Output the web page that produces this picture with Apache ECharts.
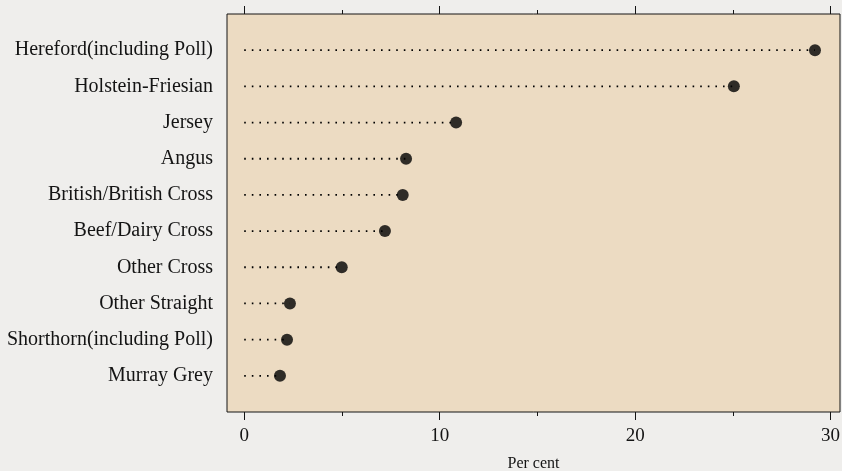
<!DOCTYPE html>
<html>
<head>
<meta charset="utf-8">
<script src="https://cdn.jsdelivr.net/npm/echarts@6/dist/echarts.min.js"></script>
<style>
html,body{margin:0;padding:0;background:#efeeec;}
#chart{width:842px;height:471px;}
</style>
</head>
<body>
<div id="chart"></div>
<script>
const categories = ['Hereford(including Poll)','Holstein-Friesian','Jersey','Angus','British/British Cross','Beef/Dairy Cross','Other Cross','Other Straight','Shorthorn(including Poll)','Murray Grey'];
const percents = [29.2, 25.05, 10.84, 8.28, 8.11, 7.2, 4.99, 2.34, 2.19, 1.83];
const majorTicks = [0, 10, 20, 30];
const minorTicks = [5, 15, 25];
const xTitle = 'Per cent';

const FONT = 'Liberation Serif';
const INK = '#141414';
const xMin = -0.88, xMax = 30.48;

const points = percents.map((v, i) => [v, i]);

function xAxisDef(pos, ticks, len, showLabel, extra) {
  return Object.assign({
    type: 'value', position: pos, min: xMin, max: xMax,
    axisLine: {show: false, onZero: false},
    splitLine: {show: false},
    axisTick: {show: true, inside: false, length: len, customValues: ticks, lineStyle: {color: INK, width: 1}},
    axisLabel: {show: showLabel, customValues: ticks, fontFamily: FONT, fontSize: 19, color: INK, margin: 15},
  }, extra || {});
}

const chart = echarts.init(document.getElementById('chart'), null, {renderer: 'canvas'});
chart.setOption({
  animation: false,
  backgroundColor: '#efeeec',
  grid: {left: 227, right: 2, top: 14, bottom: 59, show: true, backgroundColor: '#ecdbc2', borderColor: INK, borderWidth: 1, containLabel: false, outerBoundsMode: 'none'},
  xAxis: [
    xAxisDef('bottom', majorTicks, 8, true, {name: xTitle, nameLocation: 'middle', nameGap: 44, nameTextStyle: {fontFamily: FONT, fontSize: 16, color: INK}}),
    xAxisDef('bottom', minorTicks, 4, false),
    xAxisDef('top', majorTicks, 8, false),
    xAxisDef('top', minorTicks, 4, false)
  ],
  yAxis: {
    type: 'value', inverse: true, min: -1, max: 10, interval: 1,
    axisLine: {show: false, onZero: false}, axisTick: {show: false}, splitLine: {show: false},
    axisLabel: {
      customValues: categories.map((c, i) => i),
      formatter: v => categories[v] || '',
      fontFamily: FONT, fontSize: 20, color: INK, margin: 14
    }
  },
  series: [
    {
      type: 'custom', xAxisIndex: 0, yAxisIndex: 0,
      data: points,
      renderItem: function (params, api) {
        const y = api.value(1);
        const p0 = api.coord([0, y]);
        const p1 = api.coord([api.value(0), y]);
        return {
          type: 'line',
          shape: {x1: p0[0], y1: p0[1], x2: p1[0], y2: p1[1]},
          style: {stroke: '#000', lineWidth: 1.8, lineDash: [1.6, 6]}
        };
      },
      silent: true, z: 2
    },
    {
      type: 'scatter', xAxisIndex: 0, yAxisIndex: 0,
      data: points, symbol: 'circle', symbolSize: 12,
      itemStyle: {color: '#000'}, z: 3, silent: true
    }
  ]
});
</script>
</body>
</html>
